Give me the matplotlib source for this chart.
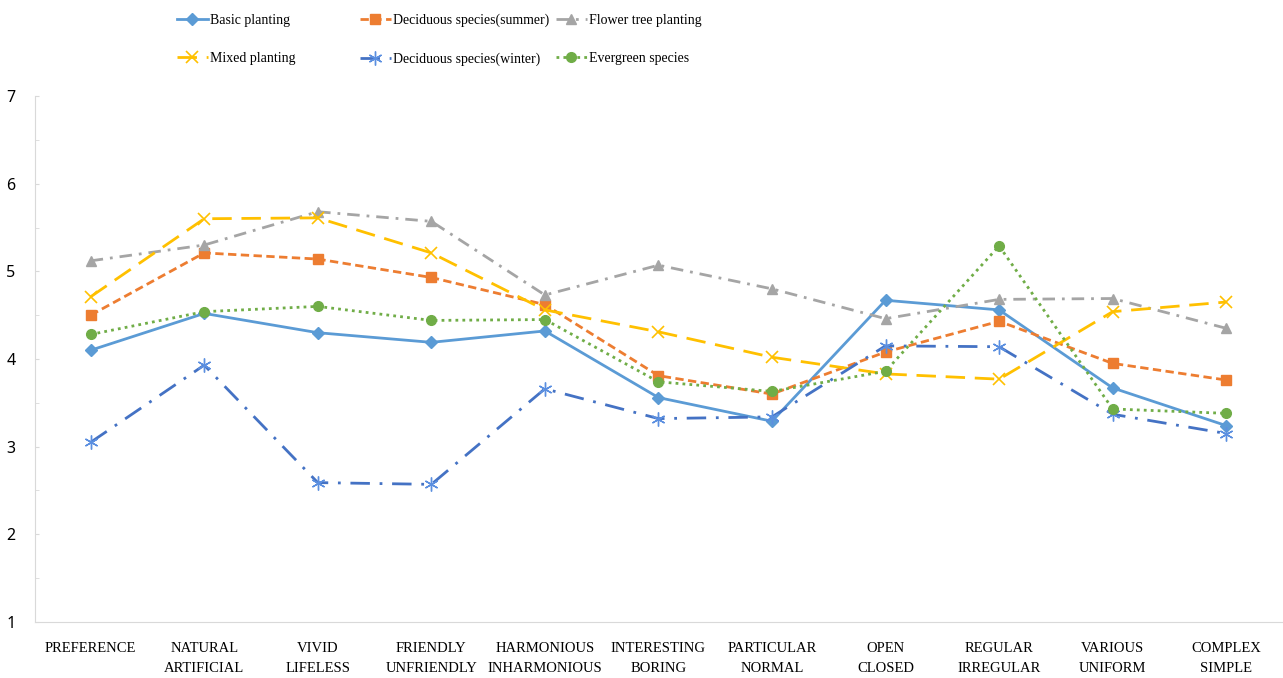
import matplotlib.pyplot as plt
from matplotlib.ticker import MultipleLocator

categories = ["PREFERENCE", "NATURAL\nARTIFICIAL", "VIVID\nLIFELESS", "FRIENDLY\nUNFRIENDLY",
              "HARMONIOUS\nINHARMONIOUS", "INTERESTING\nBORING", "PARTICULAR\nNORMAL",
              "OPEN\nCLOSED", "REGULAR\nIRREGULAR", "VARIOUS\nUNIFORM", "COMPLEX\nSIMPLE"]

basic = [4.10, 4.52, 4.30, 4.19, 4.32, 3.56, 3.29, 4.67, 4.56, 3.67, 3.24]
summer = [4.50, 5.21, 5.14, 4.93, 4.62, 3.81, 3.60, 4.08, 4.43, 3.95, 3.76]
flower = [5.12, 5.30, 5.68, 5.57, 4.73, 5.07, 4.80, 4.46, 4.68, 4.69, 4.35]
mixed = [4.71, 5.60, 5.61, 5.21, 4.56, 4.31, 4.02, 3.83, 3.77, 4.54, 4.65]
winter = [3.05, 3.93, 2.59, 2.57, 3.66, 3.32, 3.34, 4.15, 4.14, 3.37, 3.15]
evergreen = [4.28, 4.54, 4.60, 4.44, 4.45, 3.74, 3.63, 3.86, 5.29, 3.43, 3.38]

x = list(range(len(categories)))

fig = plt.figure(figsize=(12.83, 6.78), dpi=100)
ax = fig.add_axes([0.0273, 0.0826, 0.9727, 0.7758])

# series styles (Excel-like)
h_basic, = ax.plot(x, basic, color="#5B9BD5", lw=2.0, marker="D", ms=6,
                   label="Basic planting")
h_summer, = ax.plot(x, summer, color="#ED7D31", lw=2.0, ls=(0, (3, 1.6)), marker="s", ms=7,
                    label="Deciduous species(summer)")
h_flower, = ax.plot(x, flower, color="#A5A5A5", lw=2.0, ls=(0, (4.5, 2.5, 1, 2.5)), marker="^", ms=7,
                    label="Flower tree planting")
h_mixed, = ax.plot(x, mixed, color="#FFC000", lw=2.0, ls=(0, (7, 3.5)), marker="x", ms=8, mew=1.2,
                   label="Mixed planting")
h_winter, = ax.plot(x, winter, color="#4472C4", lw=2.0, ls=(0, (7, 3.5, 1, 3.5)),
                    marker=(6, 2, 0), ms=10, mew=1.0, mec="#5B8FE0",
                    label="Deciduous species(winter)")
h_ever, = ax.plot(x, evergreen, color="#70AD47", lw=2.0, ls=(0, (1, 1.5)), marker="o", ms=7,
                  label="Evergreen species")

ax.set_xlim(-0.49, 10.5)
ax.set_ylim(1, 7)
ax.set_xticks(x)
ax.set_xticklabels(categories, fontfamily="Liberation Serif", fontsize=10.5, linespacing=1.7)
ax.yaxis.set_major_locator(MultipleLocator(1))
ax.yaxis.set_minor_locator(MultipleLocator(0.5))
for lab in ax.get_yticklabels():
    lab.set_fontfamily("Noto Sans")
    lab.set_fontsize(11.5)
ax.tick_params(axis="x", length=0, pad=14.5)
ax.tick_params(axis="y", which="both", direction="in", length=3, color="#D9D9D9", pad=14)

for s in ["top", "right"]:
    ax.spines[s].set_visible(False)
ax.spines["left"].set_color("#D9D9D9")
ax.spines["bottom"].set_color("#D9D9D9")

# legend: three columns, two rows
cols = [([h_basic, h_mixed], 177), ([h_summer, h_winter], 360), ([h_flower, h_ever], 556)]
for handles, px in cols:
    fig.legend(handles=handles, labels=[h.get_label() for h in handles],
               loc="upper left", bbox_to_anchor=(px / 1283, 1 - 14 / 678),
               frameon=False, borderpad=0, borderaxespad=0, handlelength=2.2,
               handletextpad=0.2, labelspacing=1.8,
               prop={"family": "Liberation Serif", "size": 10})

fig.savefig("out.png", dpi=100)
